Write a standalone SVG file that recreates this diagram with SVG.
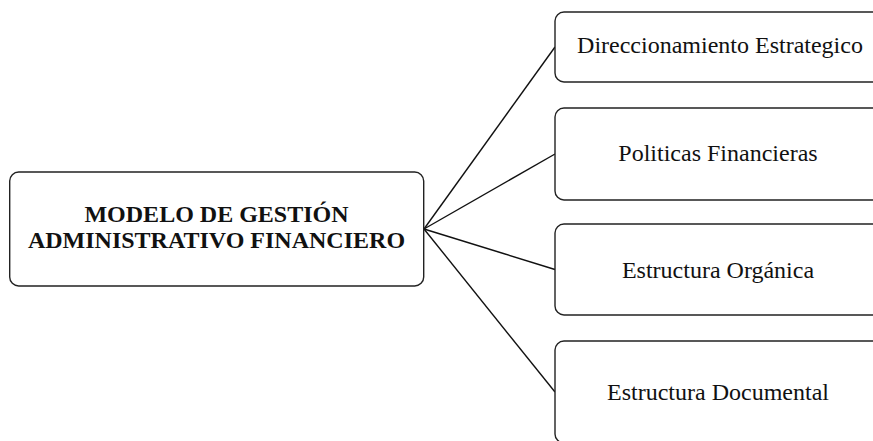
<svg xmlns="http://www.w3.org/2000/svg" width="873" height="441" viewBox="0 0 873 441">
<style>
.box{fill:#ffffff;stroke:#222;stroke-width:1.4}
.con{stroke:#111;stroke-width:1.4;fill:none}
.t{font-family:"Liberation Serif","Times New Roman",serif;font-size:24px;fill:#111;text-anchor:middle}
.tb{font-weight:bold}
</style>
<rect width="873" height="441" fill="#ffffff"/>
<g id="connectors">
<line class="con" x1="424" y1="229" x2="555" y2="47"/>
<line class="con" x1="424" y1="229" x2="555" y2="154"/>
<line class="con" x1="424" y1="229" x2="555" y2="269.5"/>
<line class="con" x1="424" y1="229" x2="555" y2="392"/>
</g>
<g id="main">
<rect class="box" x="9.7" y="172" width="414" height="114" rx="9"/>
<text class="t tb" x="216.5" y="222">MODELO DE GESTIÓN</text>
<text class="t tb" x="216.5" y="248">ADMINISTRATIVO FINANCIERO</text>
</g>
<g id="n1">
<rect class="box" x="555" y="12" width="335" height="70" rx="9"/>
<text class="t" x="720" y="53">Direccionamiento Estrategico</text>
</g>
<g id="n2">
<rect class="box" x="555" y="108" width="335" height="92" rx="9"/>
<text class="t" x="718" y="161">Politicas Financieras</text>
</g>
<g id="n3">
<rect class="box" x="555" y="224" width="335" height="91" rx="9"/>
<text class="t" x="718" y="278">Estructura Orgánica</text>
</g>
<g id="n4">
<rect class="box" x="555" y="341" width="335" height="102" rx="9"/>
<text class="t" x="718" y="400">Estructura Documental</text>
</g>
</svg>
